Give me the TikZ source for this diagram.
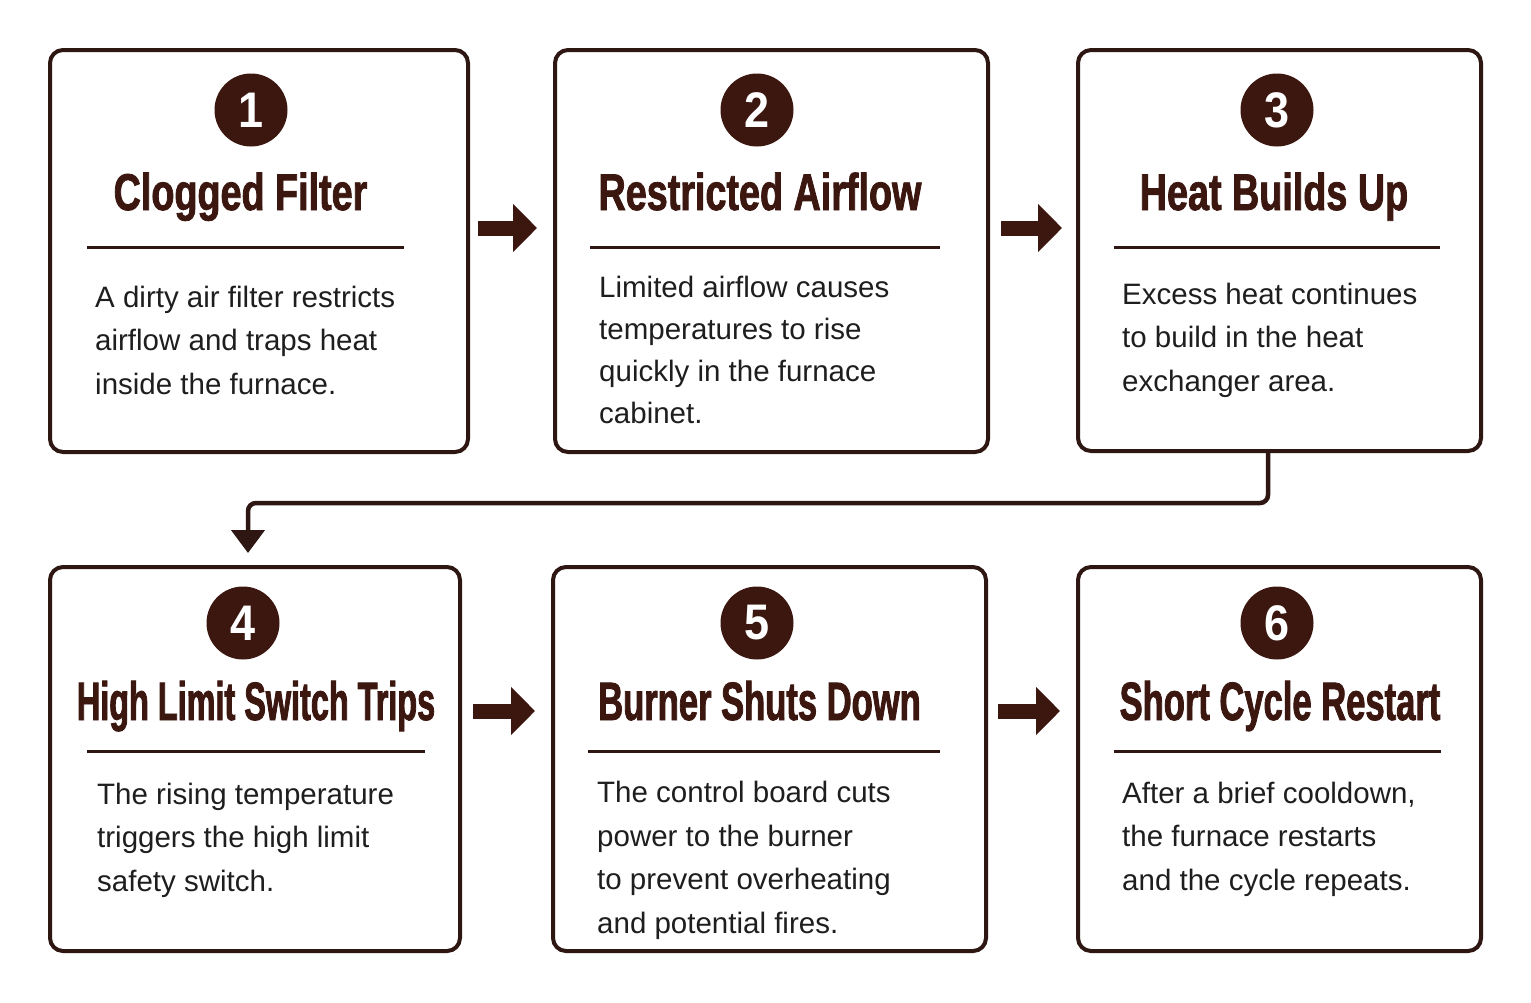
\documentclass[tikz,border=0pt]{standalone}
\usepackage{fontspec}
\setmainfont{Liberation Sans}
\newfontfamily\ttlA{Liberation Sans}[FakeStretch=0.73,FakeBold=1.5]
\newfontfamily\ttlB{Liberation Sans}[FakeStretch=0.64,FakeBold=1.5]
\newfontfamily\ttlC{Liberation Sans}[FakeStretch=0.60,FakeBold=1.5]
\newfontfamily\numfont{Liberation Sans}[FakeStretch=0.9]
\usetikzlibrary{arrows.meta}
\definecolor{brn}{HTML}{3B1710}
\definecolor{edgec}{HTML}{2E1712}
\definecolor{ink}{HTML}{1E1E1E}
\begin{document}
\begin{tikzpicture}[x=1pt,y=-1pt,
  card/.style={draw=edgec, line width=4pt, rounded corners=13pt, fill=white, inner sep=0pt},
  num/.style={circle, fill=brn, minimum size=73pt, inner sep=0pt, text=white, font=\numfont\bfseries\fontsize{50}{50}\selectfont},
  ttlup/.style={anchor=base, inner sep=0pt, text=brn, font=\ttlA\bfseries\fontsize{51.7}{52}\selectfont},
  ttldn/.style={anchor=base, inner sep=0pt, text=brn, font=\ttlB\bfseries\fontsize{54}{54}\selectfont},
  ttlnarrow/.style={anchor=base, inner sep=0pt, text=brn, font=\ttlC\bfseries\fontsize{54}{54}\selectfont},
  rulex/.style={draw=edgec, line width=3pt},
  body/.style={anchor=base west, inner sep=0pt, align=left, text=ink, font=\fontsize{29.5}{43.5}\selectfont},
  blk/.style={draw=brn, line width=15pt, -{Triangle[length=24pt,width=47pt]}},
  conn/.style={draw=edgec, line width=4.5pt, rounded corners=8pt, -{Triangle[length=23pt,width=33pt]}}
]
\fill[white] (0,0) rectangle (1531,1002);
\useasboundingbox (0,0) rectangle (1531,1002);

% cards
\node[card, minimum width=418pt, minimum height=402pt] (b1) at (259,251) {};
\node[card, minimum width=433pt, minimum height=402pt] (b2) at (771.5,251) {};
\node[card, minimum width=403pt, minimum height=401pt] (b3) at (1279.5,250.5) {};
\node[card, minimum width=410pt, minimum height=384pt] (b4) at (255,759) {};
\node[card, minimum width=433pt, minimum height=384pt] (b5) at (769.5,759) {};
\node[card, minimum width=403pt, minimum height=384pt] (b6) at (1279.5,759) {};

% number badges
\node[num] (n1) at (251,110) {1};
\node[num] (n2) at (757,110) {2};
\node[num] (n3) at (1277,110) {3};
\node[num] (n4) at (243,623) {4};
\node[num] (n5) at (757,623) {5};
\node[num] (n6) at (1277,623) {6};

% titles
\node[ttlup] (t1) at (240.5,210) {Clogged Filter};
\node[ttlup] (t2) at (760,210) {Restricted Airflow};
\node[ttlup] (t3) at (1274,210) {Heat Builds Up};
\node[ttlnarrow] (t4) at (256,720) {High Limit Switch Trips};
\node[ttldn] (t5) at (759.5,720) {Burner Shuts Down};
\node[ttldn] (t6) at (1280,720) {Short Cycle Restart};

% rules
\draw[rulex] (87,247) -- (404,247);
\draw[rulex] (590,247) -- (940,247);
\draw[rulex] (1114,247) -- (1440,247);
\draw[rulex] (87,751) -- (425,751);
\draw[rulex] (588,751) -- (940,751);
\draw[rulex] (1114,751) -- (1441,751);

% body texts (base anchor = baseline of the last line)
\node[body] (d1) at (95,394) {A dirty air filter restricts\\airflow and traps heat\\inside the furnace.};
\node[body, font=\fontsize{29.5}{42}\selectfont] (d2) at (599,423) {Limited airflow causes\\temperatures to rise\\quickly in the furnace\\cabinet.};
\node[body] (d3) at (1122,391) {Excess heat continues\\to build in the heat\\exchanger area.};
\node[body] (d4) at (97,891) {The rising temperature\\triggers the high limit\\safety switch.};
\node[body] (d5) at (597,933) {The control board cuts\\power to the burner\\to prevent overheating\\and potential fires.};
\node[body] (d6) at (1122,890) {After a brief cooldown,\\the furnace restarts\\and the cycle repeats.};

% block arrows
\coordinate (a1s) at (478,228);  \coordinate (a1e) at (537,228);
\coordinate (a2s) at (1001,228); \coordinate (a2e) at (1062,228);
\coordinate (a3s) at (473,711);  \coordinate (a3e) at (535,711);
\coordinate (a4s) at (998,711);  \coordinate (a4e) at (1060,711);
\draw[blk] (a1s) -- (a1e);
\draw[blk] (a2s) -- (a2e);
\draw[blk] (a3s) -- (a3e);
\draw[blk] (a4s) -- (a4e);

% return connector 3 -> 4
\coordinate (jn) at (1268,503);
\coordinate (tip) at (248,553);
\draw[conn] (b3.south -| jn) |- (tip |- jn) -- (tip);
\end{tikzpicture}
\end{document}
